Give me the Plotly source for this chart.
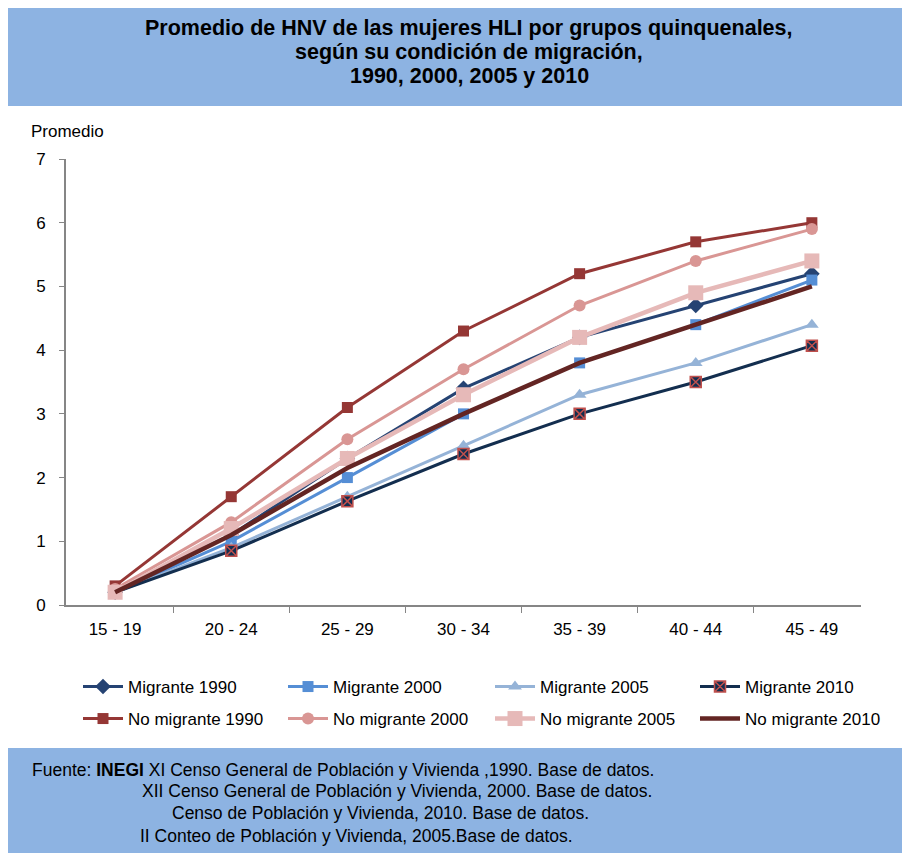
import plotly.graph_objects as go

# Age groups (quinquennial) and average number of live-born children (HNV)
grupos = ["15 - 19", "20 - 24", "25 - 29", "30 - 34", "35 - 39", "40 - 44", "45 - 49"]

migrante_1990 = [0.2, 1.1, 2.3, 3.4, 4.2, 4.7, 5.2]
migrante_2000 = [0.2, 1.0, 2.0, 3.0, 3.8, 4.4, 5.1]
migrante_2005 = [0.2, 0.9, 1.7, 2.5, 3.3, 3.8, 4.4]
migrante_2010 = [0.2, 0.85, 1.63, 2.37, 3.0, 3.5, 4.07]
no_migrante_1990 = [0.3, 1.7, 3.1, 4.3, 5.2, 5.7, 6.0]
no_migrante_2000 = [0.25, 1.3, 2.6, 3.7, 4.7, 5.4, 5.9]
no_migrante_2005 = [0.2, 1.2, 2.3, 3.3, 4.2, 4.9, 5.4]
no_migrante_2010 = [0.2, 1.1, 2.15, 3.0, 3.8, 4.4, 5.0]

y_ticks = [0, 1, 2, 3, 4, 5, 6, 7]

titulo = [
    "Promedio de HNV de las mujeres HLI por grupos quinquenales,",
    "según su condición de migración,",
    "1990, 2000, 2005 y 2010",
]

W, H = 902, 853
ML, MR, MT, MB = 66, 41, 159, 248
PW, PH = W - ML - MR, H - MT - MB


def px_x(px):
    return (px - ML) / PW


def px_y(py):
    return (H - MB - py) / PH


FONT = "Liberation Sans, Arial, sans-serif"
BAND = "#8DB3E2"
AXIS = "#868686"
FS = 17

series = [
    ("Migrante 1990", migrante_1990, "#254373", dict(symbol="diamond", size=12), 3),
    ("Migrante 2000", migrante_2000, "#558ED5", dict(symbol="square", size=11), 3),
    ("Migrante 2005", migrante_2005, "#95B3D7", dict(symbol="triangle-up", size=12), 3),
    ("Migrante 2010", migrante_2010, "#132E4F",
     dict(symbol="square-x", size=11, line=dict(color="#C0504D", width=1.5)), 3),
    ("No migrante 1990", no_migrante_1990, "#953735", dict(symbol="square", size=11), 3),
    ("No migrante 2000", no_migrante_2000, "#D99694", dict(symbol="circle", size=12), 3),
    ("No migrante 2005", no_migrante_2005, "#E6B9B8", dict(symbol="square", size=15), 4.5),
    ("No migrante 2010", no_migrante_2010, "#632523", None, 4.5),
]

# legend entry anchors: 4 columns x 2 rows below the plot
leg_cols = [78, 283, 490, 695]
leg_rows = [687, 719]

fig = go.Figure()
legends = {}
for i, (name, vals, color, marker, width) in enumerate(series):
    key = "legend" if i == 0 else f"legend{i + 1}"
    m = dict(color=color, **(marker or {}))
    fig.add_trace(go.Scatter(
        x=grupos, y=vals, name=name, legend=key, showlegend=True,
        mode="lines+markers" if marker else "lines",
        line=dict(color=color, width=width),
        marker=m,
    ))
    legends[key] = dict(
        x=px_x(leg_cols[i % 4]), y=px_y(leg_rows[i // 4]),
        orientation="h", xanchor="left", yanchor="middle",
        font=dict(family=FONT, size=FS, color="black"),
        itemwidth=40, bgcolor="rgba(0,0,0,0)", visible=True,
    )

shapes = [
    # title band
    dict(type="rect", xref="paper", yref="paper", layer="below",
         x0=px_x(8), x1=px_x(905), y0=px_y(8), y1=px_y(106),
         fillcolor=BAND, line=dict(width=0)),
    # source band
    dict(type="rect", xref="paper", yref="paper", layer="below",
         x0=px_x(8), x1=px_x(905), y0=px_y(748), y1=px_y(856),
         fillcolor=BAND, line=dict(width=0)),
]

annotations = []
for yy, line in zip([28, 52, 76], titulo):
    annotations.append(dict(xref="paper", yref="paper", x=px_x(469), y=px_y(yy),
                            xanchor="center", yanchor="middle", showarrow=False,
                            text=f"<b>{line}</b>",
                            font=dict(family=FONT, size=21.5, color="black")))

annotations.append(dict(xref="paper", yref="paper", x=px_x(29), y=px_y(131),
                        xanchor="left", yanchor="middle", showarrow=False, text="Promedio",
                        font=dict(family=FONT, size=FS, color="black")))

fuente = [
    (30, 770, "Fuente: <b>INEGI</b> XI Censo General de Población y Vivienda ,1990. Base de datos."),
    (140, 791, "XII Censo General de Población y Vivienda, 2000. Base de datos."),
    (170, 813, "Censo de Población y Vivienda, 2010. Base de datos."),
    (138, 836, "II Conteo de Población y Vivienda, 2005.Base de datos."),
]
for x, y, t in fuente:
    annotations.append(dict(xref="paper", yref="paper", x=px_x(x), y=px_y(y),
                            xanchor="left", yanchor="middle", showarrow=False, text=t,
                            font=dict(family=FONT, size=17.5, color="black")))

fig.update_layout(
    width=W, height=H,
    margin=dict(l=ML, r=MR, t=MT, b=MB),
    paper_bgcolor="white", plot_bgcolor="white",
    showlegend=True,
    font=dict(family=FONT, size=FS, color="black"),
    shapes=shapes, annotations=annotations,
    xaxis=dict(type="category", showgrid=False, showline=True, linecolor=AXIS, linewidth=2,
               ticks="outside", tickson="boundaries", ticklen=6, tickcolor=AXIS,
               ticklabelstandoff=8,
               tickfont=dict(family=FONT, size=FS, color="black"), zeroline=False),
    yaxis=dict(range=[0, 7], tickvals=y_ticks, showgrid=False, showline=True,
               linecolor=AXIS, linewidth=2, ticks="outside", ticklen=5, tickcolor=AXIS,
               ticklabelstandoff=10,
               tickfont=dict(family=FONT, size=FS, color="black"), zeroline=False),
    **legends,
)

fig.write_html("out.html")
